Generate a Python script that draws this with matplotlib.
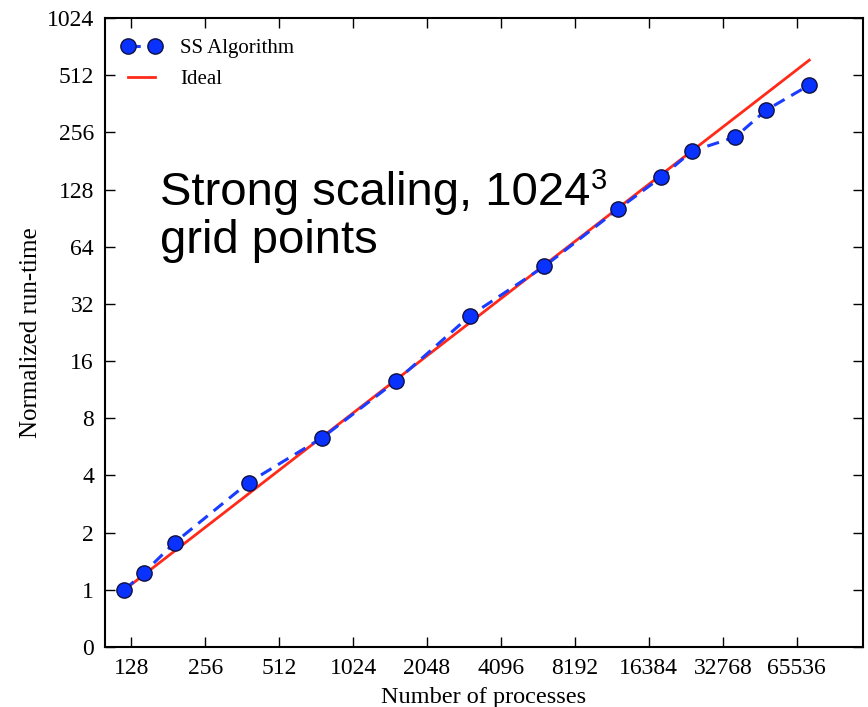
import matplotlib
matplotlib.use("Agg")
import matplotlib.pyplot as plt

procs = [120, 144, 192, 384, 768, 1536, 3072, 6144, 12288, 18432, 24576, 36864, 49152, 73728]
runtime = [1.0, 1.23, 1.77, 3.67, 6.33, 12.6, 27.8, 50.4, 101, 149, 204, 242, 335, 454]
ideal_x = [120, 73728]
ideal_y = [1.0, 73728 / 120.0]

xticks = [128, 256, 512, 1024, 2048, 4096, 8192, 16384, 32768, 65536]
yticks = [0.5, 1, 2, 4, 8, 16, 32, 64, 128, 256, 512, 1024]
ylabels = ["0", "1", "2", "4", "8", "16", "32", "64", "128", "256", "512", "1024"]

plt.rcParams['font.family'] = ['Liberation Serif', 'DejaVu Serif']

fig = plt.figure(figsize=(8.68, 7.07), dpi=100)
ax = fig.add_axes([105/868, 1 - 647/707, (863-105)/868, (647-18)/707])

ax.plot(procs, runtime, '--o', color='#1a3cff', lw=2.2, dashes=(4, 2.5),
        markersize=11, markerfacecolor='#0a32ff', markeredgecolor='#101040',
        markeredgewidth=1, label='SS Algorithm', zorder=3)
ax.plot(ideal_x, ideal_y, '-', color='#ff2a1a', lw=2, label='Ideal', zorder=2)

ax.set_xscale('log', base=2)
ax.set_yscale('log', base=2)
ax.set_xlim(100, 122000)
ax.set_ylim(0.5, 1024)
ax.set_xticks(xticks)
ax.set_xticklabels([str(t) for t in xticks])
ax.set_yticks(yticks)
ax.set_yticklabels(ylabels)
ax.minorticks_off()
ax.tick_params(direction='in', length=7, width=1, top=True, right=True,
               labelsize=17, pad=8)
for s in ax.spines.values():
    s.set_linewidth(1.5)

ax.set_xlabel('Number of processes', fontsize=17.5, labelpad=6)
ax.set_ylabel('Normalized run-time', fontsize=18, labelpad=3)

ax.legend(loc='upper left', bbox_to_anchor=(0, 0.994), frameon=False,
          numpoints=2, fontsize=15, handlelength=1.9, handletextpad=0.9,
          labelspacing=0.55, borderaxespad=0.4)

fig.text(160/868, 1 - 205/707, 'Strong scaling, 1024', fontsize=34,
         family='Liberation Sans', va='baseline')
fig.text(591/868, 1 - 189/707, '3', fontsize=21, family='Liberation Sans', va='baseline')
fig.text(160/868, 1 - 253/707, 'grid points', fontsize=34,
         family='Liberation Sans', va='baseline')

fig.savefig('out.png', dpi=100)
